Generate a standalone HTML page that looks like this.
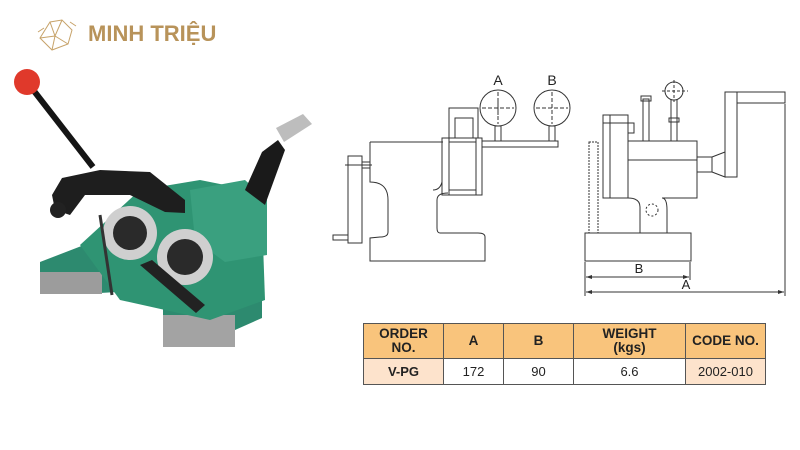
<!DOCTYPE html>
<html><head><meta charset="utf-8"><style>
html,body{margin:0;padding:0;background:#fff;width:800px;height:450px;overflow:hidden}
svg{display:block}
table{position:absolute;left:363px;top:323px;border-collapse:collapse;font-family:"Liberation Sans",sans-serif;}
td{border:1.5px solid #555;text-align:center;font-size:13px;color:#222;padding:0}
tr.h td{background:#f9c47c;font-weight:bold;font-size:13.5px;line-height:14px;height:34px}
tr.d td{height:25px;background:#fff}
tr.d td.p{background:#fde3cc;font-weight:bold}
tr.d td.q{background:#fde3cc}
</style></head><body>
<svg width="800" height="450" viewBox="0 0 800 450" style="position:absolute;left:0;top:0">
<!-- logo -->
<g stroke="#c7a36a" fill="none" stroke-width="1">
<path d="M40 38 L50 22 L62 20 L72 30 L68 44 L52 50 Z"/><path d="M50 22 L55 36 L62 20 M55 36 L40 38 M55 36 L68 44 M55 36 L52 50"/>
<path d="M38 32 L44 28 M70 22 L76 26"/>
</g>
<text x="88" y="41" font-family="Liberation Sans,sans-serif" font-weight="bold" font-size="22" fill="#b8935a">MINH TRIỆU</text>
<!-- photo approximations -->
<g>
<polygon points="40,262 110,235 153,250 153,290 100,293 40,293" fill="#2d8a6f"/>
<rect x="40" y="272" width="62" height="22" fill="#9c9c9c"/>
<polygon points="163,300 235,275 262,285 262,318 235,330 163,330" fill="#2d8a6f"/>
<rect x="163" y="315" width="72" height="32" fill="#a3a3a3"/>
<polygon points="80,245 140,190 200,180 250,190 262,215 265,300 210,320 120,300" fill="#2f9473"/>
<polygon points="190,190 245,180 267,200 267,255 225,262 195,240" fill="#3aa07f"/>
<line x1="27" y1="82" x2="93" y2="167" stroke="#151515" stroke-width="6"/>
<circle cx="27" cy="82" r="13" fill="#e0392b"/>
<polygon points="62,178 100,170 150,172 185,200 185,213 165,212 130,195 85,195 70,215 55,210 52,195" fill="#1e1e1e"/>
<circle cx="58" cy="210" r="8" fill="#222"/>
<polygon points="245,190 262,152 278,140 285,150 265,205" fill="#1a1a1a"/>
<polygon points="276,128 303,114 312,124 284,142" fill="#bdbdbd"/>
<circle cx="130" cy="233" r="27" fill="#cfcfcf"/><circle cx="130" cy="233" r="17" fill="#2a2a2a"/>
<circle cx="185" cy="257" r="28" fill="#cfcfcf"/><circle cx="185" cy="257" r="18" fill="#2a2a2a"/>
<polygon points="140,265 152,260 205,305 196,313" fill="#222"/>
<line x1="100" y1="215" x2="112" y2="295" stroke="#333" stroke-width="3"/>
</g>
<!-- left drawing -->
<g stroke="#333" stroke-width="1" fill="none">
<path d="M370 142 L443 142 M370 142 L370 182 Q388 182 388 200 L388 232 Q388 237 380 237 L370 238 L370 261 L485 261 L485 237 Q485 233 478 233 L440 233 Q437 233 437 228 L437 200 Q437 193 448 193"/>
<rect x="442" y="138" width="40" height="57"/><line x1="449" y1="138" x2="449" y2="195"/><line x1="476" y1="138" x2="476" y2="195"/>
<line x1="449" y1="142" x2="476" y2="142"/><line x1="449" y1="190" x2="476" y2="190"/>
<path d="M449 138 L449 108 L478 108 L478 138 M455 138 L455 118 L473 118 L473 138"/>
<path d="M442 182 Q440 190 433 190"/>
<rect x="482" y="141" width="76" height="6"/>
<circle cx="498" cy="108" r="18"/><circle cx="552" cy="108" r="18"/>
<rect x="495" y="126" width="6" height="15"/><rect x="549" y="126" width="6" height="15"/>
<path d="M498 92 L498 124 M482 108 L514 108 M498 100 L498 115 M536 108 L568 108 M552 92 L552 124" stroke-dasharray="4,2"/>
<rect x="348" y="156" width="14" height="87"/><rect x="333" y="235" width="15" height="5"/>
<path d="M345 165 L372 165 M362 162 L370 162 L370 168 L362 168" />
</g>
<text x="498" y="85" text-anchor="middle" font-family="Liberation Sans,sans-serif" font-size="14" fill="#222">A</text>
<text x="552" y="85" text-anchor="middle" font-family="Liberation Sans,sans-serif" font-size="14" fill="#222">B</text>
<!-- right drawing -->
<g stroke="#333" stroke-width="1" fill="none">
<rect x="585" y="233" width="106" height="28"/>
<path d="M628 141 L697 141 L697 198 L662 198 Q667 198 667 210 L667 233 M697 160 L628 160 M640 233 L640 207 Q640 198 628 198"/>
<rect x="603" y="115" width="25" height="83"/><line x1="610" y1="115" x2="610" y2="198"/><line x1="603" y1="123" x2="628" y2="123"/>
<rect x="589" y="142" width="9" height="91" stroke-dasharray="2,1"/>
<rect x="628" y="123" width="6" height="10"/>
<rect x="643" y="99" width="6" height="42"/><rect x="641" y="96" width="10" height="5"/>
<line x1="671" y1="100" x2="671" y2="141"/><line x1="677" y1="100" x2="677" y2="141"/><rect x="669" y="118" width="10" height="4"/>
<circle cx="674" cy="91" r="9"/>
<path d="M662 91 L688 91 M674 80 L674 102" stroke-dasharray="3,2"/>
<circle cx="652" cy="210" r="6" stroke-dasharray="2,2"/>
<rect x="697" y="157" width="15" height="15"/><path d="M712 157 L725 152 L725 177 L712 172"/>
<rect x="725" y="92" width="12" height="85"/><rect x="737" y="92" width="48" height="11"/>
<line x1="585" y1="262" x2="585" y2="296"/><line x1="785" y1="104" x2="785" y2="296"/><line x1="690" y1="262" x2="690" y2="280"/>
<line x1="586" y1="277" x2="689" y2="277"/><line x1="586" y1="292" x2="784" y2="292"/>
</g>
<g fill="#333"><path d="M586 277 l6 -2 v4 z M689 277 l-6 -2 v4 z M586 292 l6 -2 v4 z M784 292 l-6 -2 v4 z"/></g>
<text x="639" y="273" text-anchor="middle" font-family="Liberation Sans,sans-serif" font-size="13" fill="#222">B</text>
<text x="686" y="289" text-anchor="middle" font-family="Liberation Sans,sans-serif" font-size="13" fill="#222">A</text>
</svg>
<table>
<tr class="h"><td style="width:79px">ORDER<br>NO.</td><td style="width:59px">A</td><td style="width:69px">B</td><td style="width:111px">WEIGHT<br>(kgs)</td><td style="width:79px">CODE NO.</td></tr>
<tr class="d"><td class="p">V-PG</td><td>172</td><td>90</td><td>6.6</td><td class="q">2002-010</td></tr>
</table>
</body></html>
